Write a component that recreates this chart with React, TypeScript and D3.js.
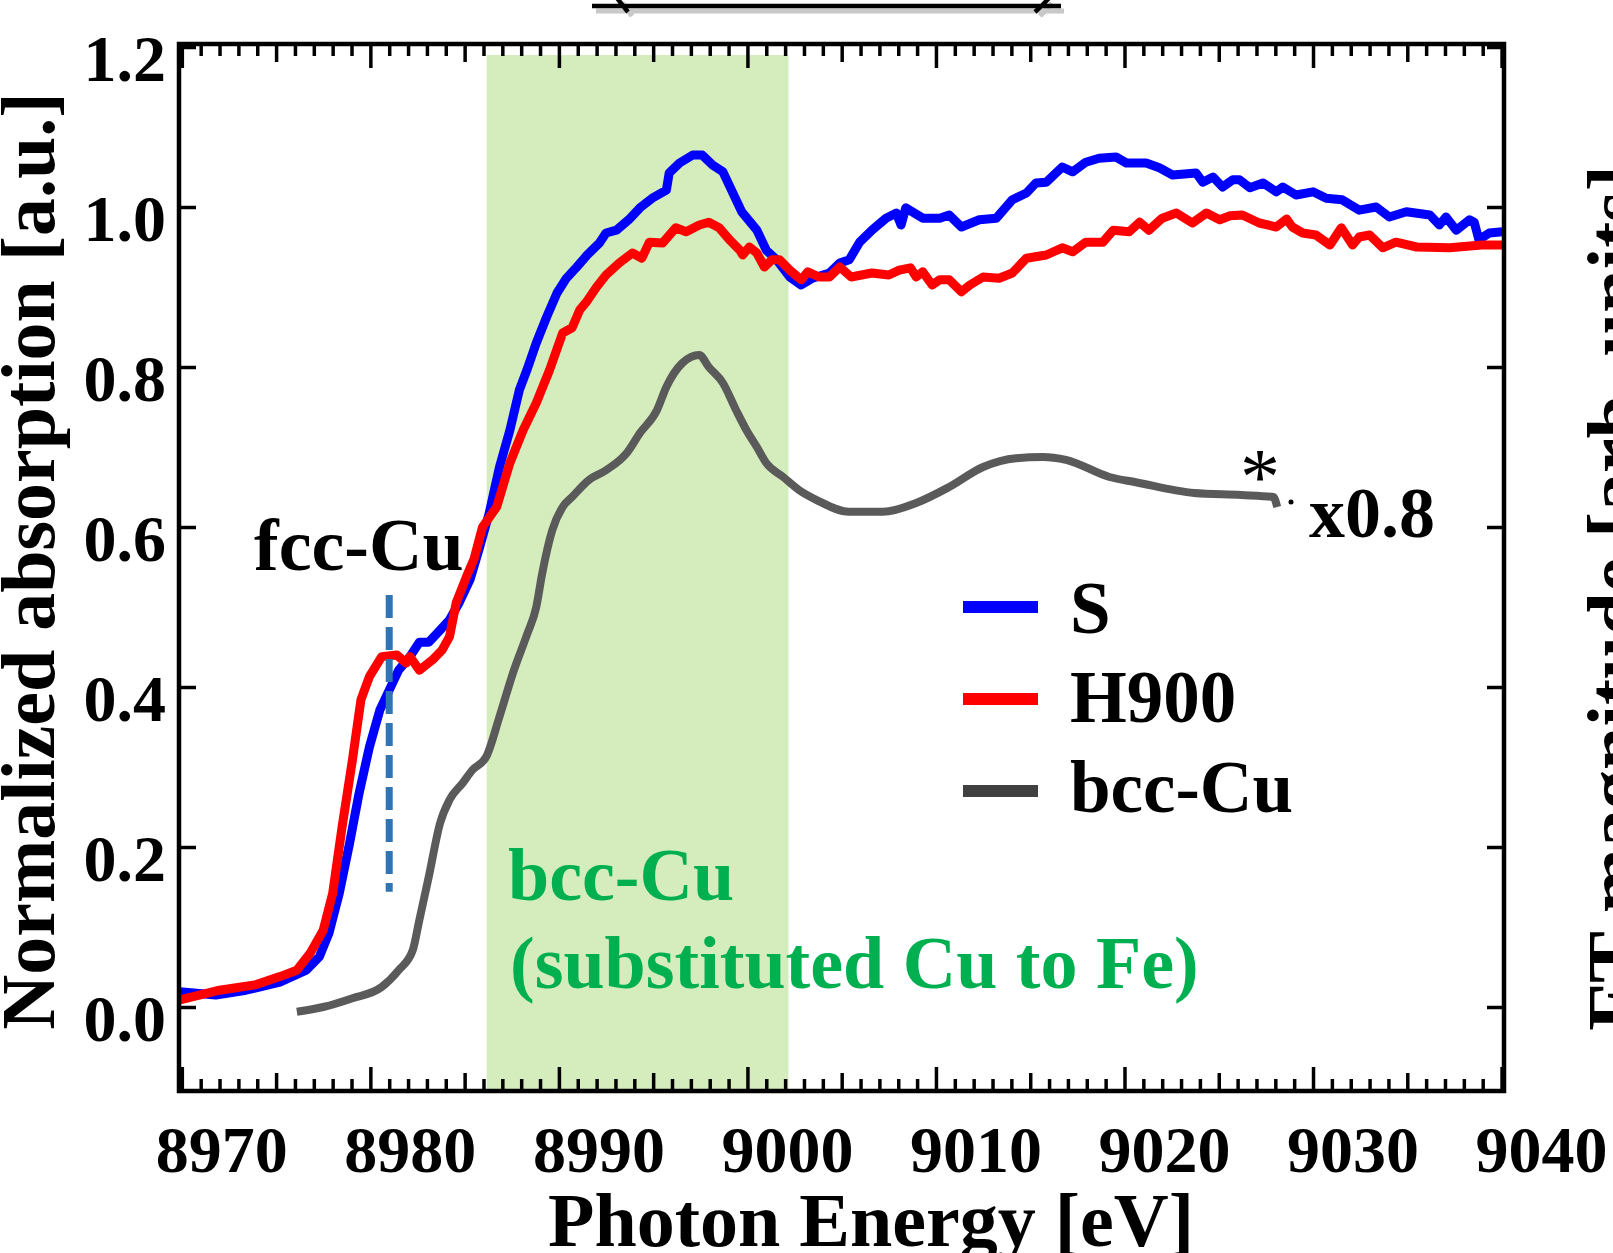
import React, { useRef, useEffect } from 'react';
import * as d3 from 'd3';

// S (blue)
const energyS = [
  8969.9, 8971.8, 8973.4, 8975.2, 8976.6, 8977.3, 8977.8, 8978.35, 8978.9, 8979.4,
  8979.95, 8980.5, 8981.0, 8981.5, 8982.1, 8982.6, 8983.1, 8983.7, 8984.2, 8984.7,
  8985.3, 8985.8, 8986.3, 8986.85, 8987.4, 8987.9, 8988.3, 8988.8, 8989.35, 8989.9,
  8990.4, 8990.95, 8991.5, 8992.15, 8992.5, 8993.05, 8993.7, 8994.3, 8994.95, 8995.7,
  8995.85, 8996.4, 8997.1, 8997.6, 8998.15, 8998.7, 8999.2, 8999.7, 9000.5, 9001.0,
  9001.55, 9002.25, 9002.85, 9003.45, 9004.35, 9004.9, 9005.4, 9005.95, 9006.6, 9007.35,
  9007.9, 9008.15, 9008.4, 9009.3, 9010.2, 9010.7, 9011.35, 9012.3, 9013.2, 9014.05,
  9014.8, 9015.3, 9015.85, 9016.7, 9017.25, 9017.95, 9018.65, 9019.55, 9020.1, 9021.15,
  9021.85, 9022.55, 9023.8, 9024.15, 9024.7, 9025.2, 9025.75, 9026.1, 9026.65, 9027.35,
  9028.05, 9028.4, 9029.1, 9030.0, 9030.7, 9031.55, 9032.45, 9033.35, 9034.05, 9034.95,
  9036.2, 9036.7, 9037.05, 9037.6, 9038.3, 9038.55, 9038.8, 9039.35, 9040.05,
];
const absS = [
  0.019, 0.015, 0.021, 0.031, 0.046, 0.063, 0.092, 0.142, 0.205, 0.267,
  0.325, 0.371, 0.396, 0.421, 0.438, 0.456, 0.456, 0.471, 0.484, 0.505,
  0.535, 0.575, 0.617, 0.675, 0.721, 0.771, 0.796, 0.83, 0.8625, 0.8925,
  0.911, 0.925, 0.94, 0.955, 0.9675, 0.971, 0.984, 0.999, 1.011, 1.021,
  1.0425, 1.055, 1.065, 1.065, 1.0525, 1.044, 1.019, 0.994, 0.971, 0.946,
  0.934, 0.9125, 0.9025, 0.911, 0.9175, 0.93, 0.934, 0.956, 0.971, 0.986,
  0.9925, 0.9775, 0.999, 0.986, 0.986, 0.99, 0.975, 0.984, 0.986, 1.009,
  1.0175, 1.03, 1.031, 1.05, 1.044, 1.056, 1.061, 1.0625, 1.055, 1.055,
  1.049, 1.04, 1.0425, 1.031, 1.0375, 1.025, 1.034, 1.034, 1.024, 1.03,
  1.019, 1.025, 1.015, 1.019, 1.011, 1.009, 0.996, 1.0, 0.9875, 0.994,
  0.99, 0.9775, 0.9875, 0.971, 0.984, 0.981, 0.959, 0.9675, 0.969,
];

// H900 (red)
const energyH = [
  8969.9, 8972.0, 8973.95, 8975.2, 8976.1, 8976.8, 8977.5, 8978.0, 8978.5, 8979.05,
  8979.5, 8979.95, 8980.6, 8981.4, 8981.9, 8982.1, 8982.6, 8983.3, 8983.8, 8984.2,
  8984.55, 8985.1, 8985.5, 8985.95, 8986.7, 8987.4, 8988.1, 8988.8, 8989.5, 8990.2,
  8990.7, 8991.1, 8991.45, 8992.0, 8992.5, 8993.2, 8993.9, 8994.4, 8994.8, 8995.5,
  8996.2, 8996.75, 8997.45, 8997.95, 8998.5, 8999.05, 8999.6, 8999.75, 9000.1, 9000.5,
  9000.9, 9001.3, 9001.7, 9002.25, 9002.85, 9003.2, 9003.8, 9004.35, 9004.9, 9005.5,
  9006.6, 9007.5, 9008.05, 9008.65, 9008.95, 9009.3, 9009.8, 9010.2, 9010.7, 9011.35,
  9011.8, 9012.5, 9013.35, 9014.05, 9014.8, 9015.85, 9016.7, 9017.25, 9017.95, 9018.85,
  9019.4, 9020.25, 9020.8, 9021.3, 9022.0, 9022.75, 9023.6, 9024.35, 9025.05, 9025.6,
  9026.25, 9027.15, 9028.05, 9028.6, 9028.9, 9029.45, 9030.15, 9030.9, 9031.5, 9032.1,
  9032.45, 9033.0, 9033.7, 9034.4, 9035.5, 9037.25, 9038.95, 9040.05,
];
const absH = [
  0.009, 0.021, 0.028, 0.038, 0.046, 0.067, 0.096, 0.142, 0.225, 0.309,
  0.384, 0.413, 0.438, 0.44, 0.43, 0.438, 0.421, 0.434, 0.446, 0.463,
  0.505, 0.538, 0.56, 0.6, 0.625, 0.68, 0.721, 0.755, 0.796, 0.8425,
  0.849, 0.871, 0.881, 0.9, 0.915, 0.93, 0.9425, 0.936, 0.956, 0.955,
  0.974, 0.969, 0.9775, 0.981, 0.974, 0.959, 0.946, 0.94, 0.95, 0.9425,
  0.925, 0.934, 0.934, 0.921, 0.909, 0.919, 0.9125, 0.9125, 0.925, 0.9125,
  0.9175, 0.915, 0.921, 0.924, 0.9125, 0.919, 0.9025, 0.909, 0.909, 0.894,
  0.9025, 0.9125, 0.911, 0.9175, 0.936, 0.94, 0.949, 0.944, 0.956, 0.956,
  0.971, 0.969, 0.981, 0.971, 0.986, 0.9925, 0.98, 0.9925, 0.984, 0.989,
  0.99, 0.98, 0.975, 0.985, 0.975, 0.9675, 0.965, 0.9525, 0.974, 0.9525,
  0.9625, 0.965, 0.949, 0.956, 0.95, 0.949, 0.9525, 0.9525,
];

// bcc-Cu reference (gray, x0.8)
const energyB = [
  8976.1, 8977.5, 8979.05, 8980.6, 8981.5, 8982.25, 8982.6, 8983.1, 8983.7, 8984.2,
  8984.9, 8985.4, 8986.15, 8986.85, 8987.6, 8988.3, 8988.8, 8989.1, 8989.65, 8990.2,
  8990.7, 8991.6, 8992.5, 8993.6, 8994.3, 8995.2, 8995.7, 8996.55, 8997.45, 8997.95,
  8998.7, 8999.4, 8999.95, 9000.5, 9001.0, 9001.9, 9002.75, 9003.65, 9005.4, 9007.2,
  9008.95, 9010.7, 9012.5, 9014.25, 9015.65, 9016.9, 9019.2, 9020.6, 9023.7, 9026.2,
  9027.9, 9028.1,
];
const absB = [
  -0.006, 0.0, 0.011, 0.025, 0.046, 0.071, 0.109, 0.163, 0.23, 0.259,
  0.28, 0.296, 0.313, 0.363, 0.42, 0.465, 0.5, 0.54, 0.596, 0.625,
  0.6375, 0.659, 0.671, 0.6925, 0.7175, 0.746, 0.775, 0.805, 0.815, 0.8,
  0.78, 0.746, 0.721, 0.7, 0.68, 0.6625, 0.646, 0.634, 0.619, 0.619,
  0.63, 0.65, 0.675, 0.686, 0.6875, 0.684, 0.6625, 0.656, 0.6425, 0.64,
  0.6375, 0.625,
];

const xTickLabels = [8970, 8980, 8990, 9000, 9010, 9020, 9030, 9040];
const yTickLabels = [0, 0.2, 0.4, 0.6, 0.8, 1.0, 1.2];
const seriesNames = ['S', 'H900', 'bcc-Cu'];
const seriesColors = ['#0000ff', '#ff0000', '#5a5a5a'];
const legendColors = ['#0000ff', '#ff0000', '#404040'];
const bandEnergy = [8986.17, 9002.18];
const bandTop = 1.19;
const fccEnergy = 8981.0;
const fccRange = [0.144, 0.515];

const FONT = "'Liberation Serif', 'Times New Roman', serif";

export default function App() {
  const svgRef = useRef<SVGSVGElement | null>(null);

  useEffect(() => {
    if (!svgRef.current) return;
    const width = 1613;
    const height = 1253;
    const frame = { left: 179, right: 1504, top: 44, bottom: 1091 };

    d3.select(svgRef.current).selectAll('*').remove();

    const svg = d3
      .select(svgRef.current)
      .attr('width', width)
      .attr('height', height)
      .style('display', 'block')
      .style('background', '#fff');

    const x = d3.scaleLinear().domain([8969.85, 9040.13]).range([frame.left, frame.right]);
    const y = d3.scaleLinear().domain([-0.105, 1.20375]).range([frame.bottom, frame.top]);

    // Bracket remnant from the panel above
    svg.append('path')
      .attr('d', 'M596,11 L1064,11 M622,3 Q628,10 632,16 M1052,3 Q1046,10 1040,16')
      .attr('stroke', '#b0b0b0')
      .attr('stroke-width', 5)
      .attr('fill', 'none')
      .attr('opacity', 0.7);
    svg.append('path')
      .attr('d', 'M592,6 L1061,6 M617,-2 Q623,6 628,12 M1049,-2 Q1042,6 1035,12')
      .attr('stroke', '#000')
      .attr('stroke-width', 4.5)
      .attr('fill', 'none');

    // Green band
    svg.append('rect')
      .attr('x', x(bandEnergy[0]))
      .attr('y', y(bandTop))
      .attr('width', x(bandEnergy[1]) - x(bandEnergy[0]))
      .attr('height', frame.bottom - y(bandTop))
      .attr('fill', '#d5ecbd');

    const line = d3
      .line<[number, number]>()
      .x((d) => x(d[0]))
      .y((d) => y(d[1]))
      .curve(d3.curveLinear);
    const smoothLine = d3
      .line<[number, number]>()
      .x((d) => x(d[0]))
      .y((d) => y(d[1]))
      .curve(d3.curveMonotoneX);

    const series: [number, number][][] = [
      energyS.map((e, i) => [e, absS[i]]),
      energyH.map((e, i) => [e, absH[i]]),
      energyB.map((e, i) => [e, absB[i]]),
    ];

    // gray first, then blue, red on top
    [2, 0, 1].forEach((k) => {
      svg.append('path')
        .attr('d', (k === 2 ? smoothLine : line)(series[k]) || '')
        .attr('fill', 'none')
        .attr('stroke', seriesColors[k])
        .attr('stroke-width', k === 2 ? 8 : 9)
        .attr('stroke-linejoin', 'round')
        .attr('stroke-linecap', 'butt');
    });

    // fcc-Cu marker
    svg.append('line')
      .attr('x1', x(fccEnergy))
      .attr('x2', x(fccEnergy))
      .attr('y1', y(fccRange[1]))
      .attr('y2', y(fccRange[0]))
      .attr('stroke', '#2e75b6')
      .attr('stroke-width', 7)
      .attr('stroke-dasharray', '23 9');

    // ticks
    const minor = d3.range(8970, 9041, 1).filter((v) => v % 5 !== 0);
    const mid = d3.range(8975, 9040, 10);
    const tickSets: [number[], number][] = [
      [minor, 12],
      [mid, 18],
      [xTickLabels, 24],
    ];
    const styleAxis = (g: d3.Selection<SVGGElement, unknown, null, undefined>) => {
      g.select('.domain').remove();
      g.selectAll('line').attr('stroke', '#000').attr('stroke-width', 3.5);
    };
    tickSets.forEach(([vals, len]) => {
      svg.append('g')
        .attr('transform', `translate(0,${frame.bottom})`)
        .call(d3.axisBottom(x).tickValues(vals).tickSize(-len).tickFormat(() => ''))
        .call(styleAxis);
      svg.append('g')
        .attr('transform', `translate(0,${frame.top})`)
        .call(d3.axisTop(x).tickValues(vals).tickSize(-len).tickFormat(() => ''))
        .call(styleAxis);
    });
    svg.append('g')
      .attr('transform', `translate(${frame.left},0)`)
      .call(d3.axisLeft(y).tickValues(yTickLabels).tickSize(-17).tickFormat(() => ''))
      .call(styleAxis);
    svg.append('g')
      .attr('transform', `translate(${frame.right},0)`)
      .call(d3.axisRight(y).tickValues(yTickLabels).tickSize(-17).tickFormat(() => ''))
      .call(styleAxis);

    // frame
    svg.append('rect')
      .attr('x', frame.left)
      .attr('y', frame.top)
      .attr('width', frame.right - frame.left)
      .attr('height', frame.bottom - frame.top)
      .attr('fill', 'none')
      .attr('stroke', '#000')
      .attr('stroke-width', 4.5);

    const text = (t: string, px: number, py: number, size: number, opts: any = {}) =>
      svg.append('text')
        .attr('x', px)
        .attr('y', py)
        .attr('font-family', FONT)
        .attr('font-weight', opts.weight || 'bold')
        .attr('font-size', size)
        .attr('fill', opts.color || '#000')
        .attr('text-anchor', opts.anchor || 'start')
        .attr('transform', opts.transform || null)
        .text(t);

    // tick labels
    xTickLabels.forEach((v) => text(String(v), x(v) + 40, 1172, 66, { anchor: 'middle' }));
    yTickLabels.forEach((v) => text(d3.format('.1f')(v), 166, y(v) + 34, 66, { anchor: 'end' }));

    // axis titles
    text('Photon Energy [eV]', 871, 1246, 76, { anchor: 'middle' });
    text('Normalized absorption [a.u.]', 0, 0, 76, {
      anchor: 'middle',
      transform: 'translate(54,561) rotate(-90)',
    });
    text('FT magnitude [arb. units]', 0, 0, 78, {
      anchor: 'middle',
      transform: 'translate(1641,598) rotate(-90)',
    });

    // annotations
    text('fcc-Cu', 254, 570, 74);
    text('bcc-Cu', 508, 900, 74, { color: '#00b050' });
    text('(substituted Cu to Fe)', 510, 988, 74, { color: '#00b050' });
    text('x0.8', 1309, 537, 72);
    text('*', 1260, 504, 80, { weight: 'normal', anchor: 'middle' });
    svg.append('circle').attr('cx', 1291).attr('cy', 502).attr('r', 2.5).attr('fill', '#000');

    // legend
    const legendY = [607, 699, 791];
    const legendBase = [633, 722, 812];
    seriesNames.forEach((name, i) => {
      svg.append('line')
        .attr('x1', 963)
        .attr('x2', 1038)
        .attr('y1', legendY[i])
        .attr('y2', legendY[i])
        .attr('stroke', legendColors[i])
        .attr('stroke-width', 12);
      text(name, 1070, legendBase[i], 73);
    });
  }, []);

  return (
    <div style={{ position: 'absolute', left: 0, top: 0 }}>
      <svg ref={svgRef} />
    </div>
  );
}
